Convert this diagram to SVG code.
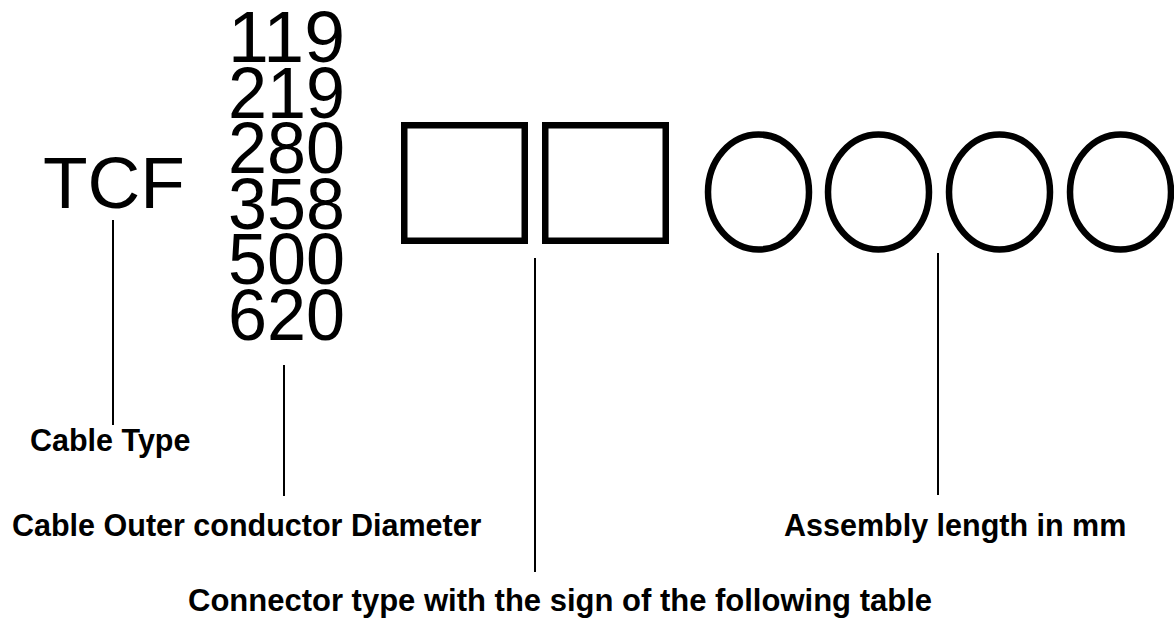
<svg xmlns="http://www.w3.org/2000/svg" width="1174" height="621" viewBox="0 0 1174 621">
<style>
.big{font-family:"Liberation Sans",Arial,sans-serif;font-size:72px;fill:#000}
.lbl{font-family:"Liberation Sans",Arial,sans-serif;font-size:30.5px;font-weight:bold;fill:#000}
.box{fill:#fff;stroke:#000;stroke-width:6.5}
.ln{stroke:#000;stroke-width:2;fill:none}
</style>
<rect width="1174" height="621" fill="#fff"/>
<g id="cable-type">
<text class="big" x="43" y="208" style="font-size:73px">TCF</text>
</g>
<g id="diameter">
<text class="big" x="228" y="62" textLength="117" lengthAdjust="spacingAndGlyphs">119</text>
<text class="big" x="228" y="117.5" textLength="117" lengthAdjust="spacingAndGlyphs">219</text>
<text class="big" x="228" y="173" textLength="117" lengthAdjust="spacingAndGlyphs">280</text>
<text class="big" x="228" y="228.5" textLength="117" lengthAdjust="spacingAndGlyphs">358</text>
<text class="big" x="228" y="284" textLength="117" lengthAdjust="spacingAndGlyphs">500</text>
<text class="big" x="228" y="340" textLength="117" lengthAdjust="spacingAndGlyphs">620</text>
</g>
<g id="connector-boxes">
<rect class="box" x="404.25" y="125.25" width="120.5" height="115.5"/>
<rect class="box" x="545.25" y="125.25" width="120.5" height="115.5"/>
</g>
<g id="length-circles">
<ellipse class="box" cx="758.5" cy="192" rx="50.5" ry="57.5"/>
<ellipse class="box" cx="878.5" cy="192" rx="50.5" ry="57.5"/>
<ellipse class="box" cx="999.5" cy="192" rx="50.5" ry="57.5"/>
<ellipse class="box" cx="1120.5" cy="192" rx="50.5" ry="57.5"/>
</g>
<g id="connectors">
<line class="ln" x1="113" y1="220" x2="113" y2="425"/>
<line class="ln" x1="284" y1="365" x2="284" y2="496"/>
<line class="ln" x1="535" y1="258" x2="535" y2="572"/>
<line class="ln" x1="938" y1="253" x2="938" y2="495"/>
</g>
<g id="label-cable-type"><text class="lbl" x="30" y="451">Cable Type</text></g>
<g id="label-diameter"><text class="lbl" x="12" y="536">Cable Outer conductor Diameter</text></g>
<g id="label-connector"><text class="lbl" x="188" y="611" style="font-size:31px">Connector type with the sign of the following table</text></g>
<g id="label-length"><text class="lbl" x="784" y="536">Assembly length in mm</text></g>
</svg>
